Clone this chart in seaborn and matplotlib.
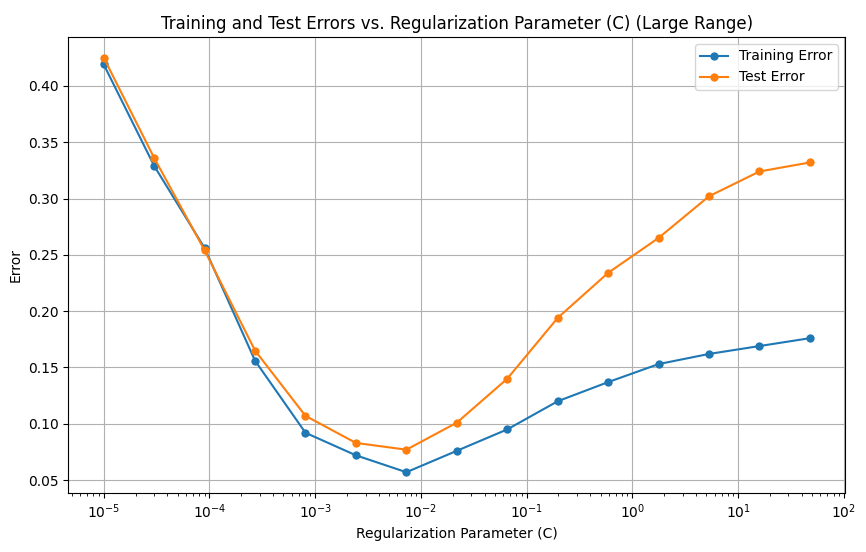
import pandas as pd
import matplotlib
matplotlib.use("Agg")
import matplotlib.pyplot as plt
import seaborn as sns

c_values = [1e-5, 3e-5, 9e-5, 2.7e-4, 8.1e-4, 2.43e-3, 7.29e-3, 2.187e-2,
            6.561e-2, 0.19683, 0.59049, 1.77147, 5.31441, 15.94323, 47.82969]
train_error = [0.419, 0.329, 0.256, 0.156, 0.092, 0.072, 0.057, 0.076,
               0.095, 0.120, 0.137, 0.153, 0.162, 0.169, 0.176]
test_error = [0.425, 0.336, 0.254, 0.165, 0.107, 0.083, 0.077, 0.101,
              0.140, 0.194, 0.234, 0.265, 0.302, 0.324, 0.332]

df = pd.DataFrame({
    "C": c_values * 2,
    "Error": train_error + test_error,
    "Set": ["Training Error"] * len(c_values) + ["Test Error"] * len(c_values),
})

fig, ax = plt.subplots(figsize=(8.66, 5.52), dpi=100)
sns.lineplot(data=df, x="C", y="Error", hue="Set", marker="o", markersize=6,
             markeredgewidth=0, palette=["#1f77b4", "#ff7f0e"], ax=ax)
ax.set_xscale("log")
ax.set_title("Training and Test Errors vs. Regularization Parameter (C) (Large Range)")
ax.set_xlabel("Regularization Parameter (C)")
ax.set_ylabel("Error")
ax.grid(True, color="#b0b0b0", linewidth=0.8)
ax.legend(title=None, loc="upper right")
fig.subplots_adjust(left=0.079, right=0.976, top=0.933, bottom=0.107)
fig.savefig("out.png")
